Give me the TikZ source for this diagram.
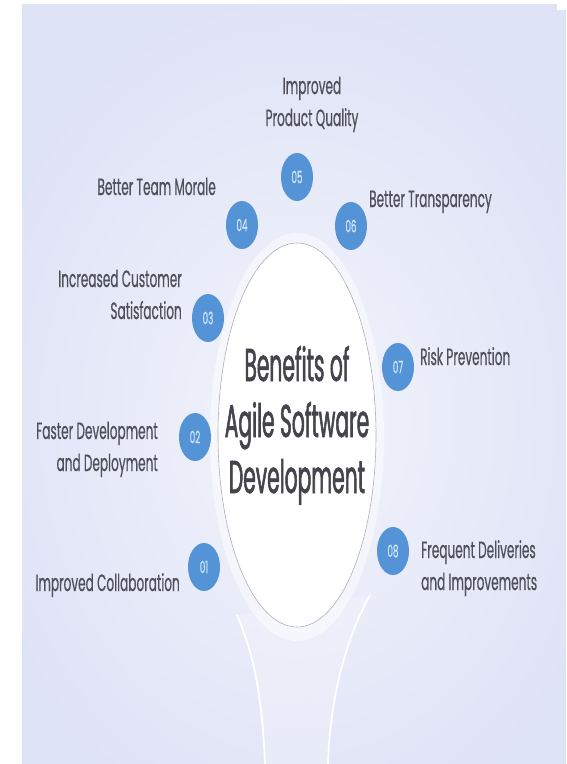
\documentclass[tikz,border=0pt]{standalone}
\usepackage{fontspec}
\setmainfont[FakeStretch=0.515,FakeBold=0.5]{Poppins}
\newfontfamily\titlefont[FakeStretch=0.44,FakeBold=1.2]{Poppins}
\usetikzlibrary{shapes.geometric}
\definecolor{bg}{RGB}{223,227,246}
\definecolor{glow}{RGB}{242,243,251}
\definecolor{bluec}{RGB}{84,148,214}
\definecolor{numc}{RGB}{208,229,250}
\definecolor{txt}{RGB}{80,80,90}
\definecolor{rim}{RGB}{175,175,190}
\tikzset{
  bub/.style={ellipse, fill=bluec, minimum width=32pt, minimum height=48pt, inner sep=0pt,
    text=numc, font=\fontsize{17}{17}\selectfont},
  lab/.style={text=txt, inner sep=0pt, font=\fontsize{23.5}{32}\selectfont},
  ttl/.style={text=txt!85!black, inner sep=0pt, align=center, font=\titlefont\fontsize{46}{56}\selectfont}
}
\begin{document}
\begin{tikzpicture}[x=1pt,y=1pt]
\useasboundingbox (0,0) rectangle (566,-764);
\fill[white] (0,0) rectangle (566,-764);
\fill[bg] (22,-4) rectangle (566,-764);
\begin{scope}
  \clip (22,-4) rectangle (566,-764);
  % soft light in the middle
  \shade[inner color=glow, outer color=bg] (297,-420) ellipse (330 and 430);
\end{scope}
\fill[white] (557,0) rectangle (566,-10);
% stem below the bulb
\fill[white, opacity=0.2] (237,-615) .. controls (252,-650) and (262,-690) .. (265,-764)
  -- (328,-764) .. controls (330,-700) and (345,-640) .. (370,-595) -- cycle;
\draw[white, line width=1.8pt] (237,-615) .. controls (252,-650) and (262,-690) .. (265,-764);
\draw[white, line width=1.8pt] (370,-595) .. controls (345,-640) and (330,-700) .. (328,-764);
% halo and central ellipse
\fill[white, opacity=0.5] (297,-437) ellipse (87 and 204);
\node[ellipse, draw=rim, line width=0.6pt, fill=white, minimum width=158pt, minimum height=384pt, inner sep=0pt] (core) at (297,-435) {};
\node[ttl, anchor=base] (title) at (297,-493) {Benefits of\\Agile Software\\Development};
% bubbles
\node[bub] (b01) at (204,-567) {01};
\node[bub] (b02) at (195,-437) {02};
\node[bub] (b03) at (208,-318) {03};
\node[bub] (b04) at (242,-225) {04};
\node[bub] (b05) at (297,-177) {05};
\node[bub] (b06) at (351,-226) {06};
\node[bub] (b07) at (398,-367) {07};
\node[bub] (b08) at (393,-551) {08};
% labels (base anchor = baseline of last line)
\node[lab, anchor=base east] (l01) at (180,-591) {Improved Collaboration};
\node[lab, anchor=base east, align=right] (l02) at (158,-471) {Faster Development\\and Deployment};
\node[lab, anchor=base east, align=right] (l03) at (182,-319) {Increased Customer\\Satisfaction};
\node[lab, anchor=base east] (l04) at (216,-195) {Better Team Morale};
\node[lab, anchor=base, align=center] (l05) at (312,-126) {Improved\\Product Quality};
\node[lab, anchor=base west] (l06) at (369,-207) {Better Transparency};
\node[lab, anchor=base west] (l07) at (420,-365) {Risk Prevention};
\node[lab, anchor=base west, align=left] (l08) at (421,-590) {Frequent Deliveries\\and Improvements};
\end{tikzpicture}
\end{document}
